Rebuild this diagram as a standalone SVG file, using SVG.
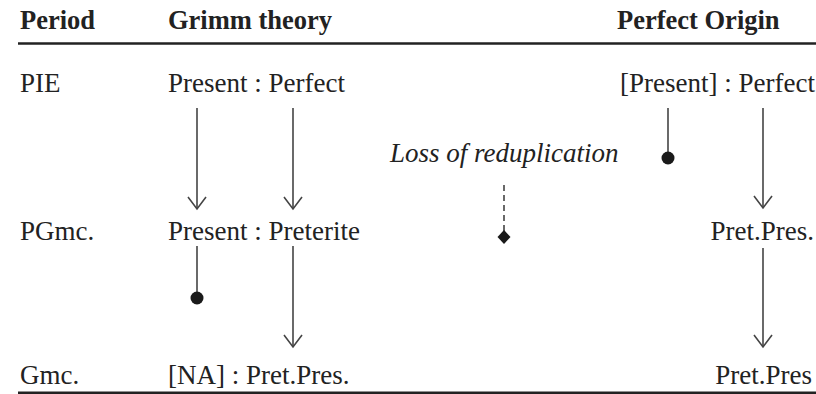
<svg xmlns="http://www.w3.org/2000/svg" width="816" height="394" viewBox="0 0 816 394">
<style>
text{font-family:"Liberation Serif","Times New Roman",serif;font-size:27px;fill:#222;}
.h{font-weight:bold;font-size:26.5px;}
.it{font-style:italic;}
.ln{stroke:#444;stroke-width:1.6;fill:none;}
.rule{stroke:#222;fill:none;}
</style>
<defs>
<marker id="arr" markerWidth="24" markerHeight="16" refX="10" refY="13" orient="0" markerUnits="userSpaceOnUse" viewBox="0 0 24 16">
<path d="M1,1 L10,13 L19,1" fill="none" stroke="#444" stroke-width="1.6"/>
</marker>
</defs>
<g id="rules">
<line class="rule" x1="18" y1="43.5" x2="816" y2="43.5" stroke-width="2.6"/>
<line class="rule" x1="18" y1="393" x2="816" y2="393" stroke-width="3"/>
</g>
<g id="header">
<text class="h" x="20" y="29">Period</text>
<text class="h" x="168" y="29">Grimm theory</text>
<text class="h" x="617" y="29">Perfect Origin</text>
</g>
<g id="periods">
<text x="20" y="92">PIE</text>
<text x="20" y="240">PGmc.</text>
<text x="20" y="384">Gmc.</text>
</g>
<g id="grimm-pie"><text x="168" y="92">Present : Perfect</text></g>
<g id="grimm-pgmc"><text x="168" y="240">Present : Preterite</text></g>
<g id="grimm-gmc"><text x="168" y="384">[NA] : Pret.Pres.</text></g>
<g id="origin-pie"><text x="815" y="92" text-anchor="end">[Present] : Perfect</text></g>
<g id="origin-pgmc"><text x="814" y="240" text-anchor="end">Pret.Pres.</text></g>
<g id="origin-gmc"><text x="812" y="384" text-anchor="end">Pret.Pres</text></g>
<g id="loss"><text class="it" x="390" y="162">Loss of reduplication</text></g>
<g id="connectors">
<line class="ln" x1="197" y1="108" x2="197" y2="209" marker-end="url(#arr)"/>
<line class="ln" x1="293" y1="108" x2="293" y2="209" marker-end="url(#arr)"/>
<line class="ln" x1="197" y1="246" x2="197" y2="298"/>
<circle cx="197" cy="298" r="6.5" fill="#1a1a1a"/>
<line class="ln" x1="293" y1="246" x2="293" y2="347" marker-end="url(#arr)"/>
<line class="ln" x1="668" y1="108" x2="668" y2="158"/>
<circle cx="668" cy="158" r="6.5" fill="#1a1a1a"/>
<line class="ln" x1="763" y1="108" x2="763" y2="208" marker-end="url(#arr)"/>
<line class="ln" x1="763" y1="248" x2="763" y2="347" marker-end="url(#arr)"/>
<line class="ln" x1="504" y1="185" x2="504" y2="232" stroke-dasharray="6,4"/>
<polygon points="504,230 510.5,237 504,244 497.5,237" fill="#1a1a1a"/>
</g>
</svg>
